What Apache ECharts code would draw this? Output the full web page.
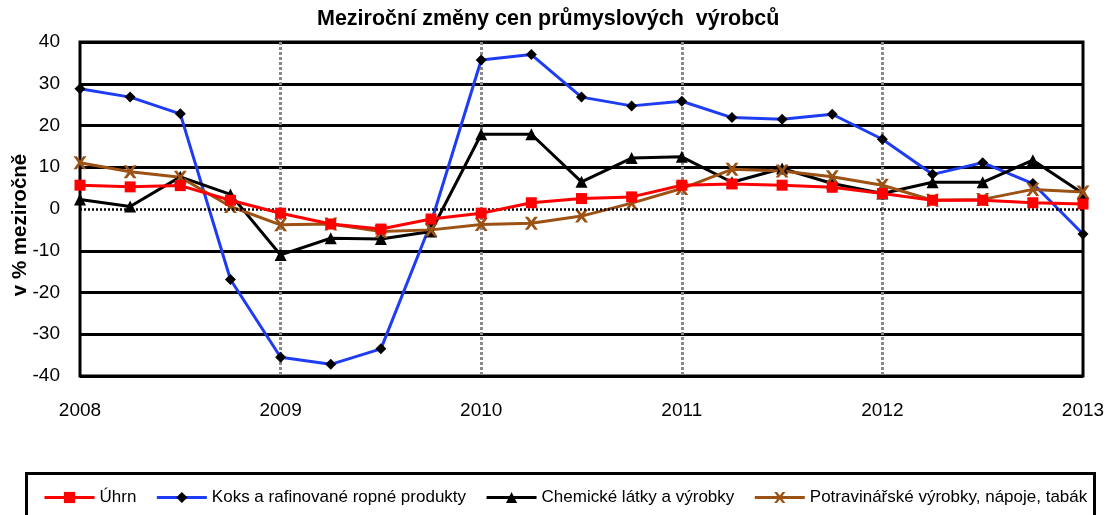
<!DOCTYPE html>
<html>
<head>
<meta charset="utf-8">
<script src="https://cdn.jsdelivr.net/npm/echarts@6/dist/echarts.min.js"></script>
<style>
html,body{margin:0;padding:0;background:#fff;}
#chart{width:1112px;height:515px;}
</style>
</head>
<body>
<div id="chart"></div>
<script>
var categories = ['2008 Q1','2008 Q2','2008 Q3','2008 Q4','2009 Q1','2009 Q2','2009 Q3','2009 Q4','2010 Q1','2010 Q2','2010 Q3','2010 Q4','2011 Q1','2011 Q2','2011 Q3','2011 Q4','2012 Q1','2012 Q2','2012 Q3','2012 Q4','2013 Q1'];
var uhrn = [5.7, 5.3, 5.6, 2.1, -1.0, -3.6, -4.8, -2.4, -1.0, 1.5, 2.5, 2.9, 5.7, 6.0, 5.7, 5.2, 3.7, 2.1, 2.1, 1.5, 1.2];
var koks = [28.8, 26.8, 22.8, -16.9, -35.5, -37.2, -33.5, -3.3, 35.7, 37.0, 26.8, 24.7, 25.8, 21.9, 21.5, 22.7, 16.7, 8.3, 11.1, 6.1, -6.0];
var chemicke = [2.3, 0.6, 7.7, 3.5, -11.0, -7.0, -7.2, -5.4, 17.9, 17.9, 6.5, 12.2, 12.5, 6.4, 9.7, 6.1, 3.7, 6.4, 6.4, 11.7, 3.7];
var potraviny = [11.1, 8.9, 7.6, 0.6, -3.8, -3.6, -5.4, -5.0, -3.7, -3.4, -1.7, 1.4, 4.9, 9.5, 9.1, 7.7, 5.7, 2.1, 2.3, 4.7, 4.1];
var seriesNames = ['Úhrn', 'Koks a rafinované ropné produkty', 'Chemické látky a výrobky', 'Potravinářské výrobky, nápoje, tabák'];
var yTicks = [-40, -30, -20, -10, 0, 10, 20, 30, 40];
var titleText = 'Meziroční změny cen průmyslových  výrobců';
var yAxisTitle = 'v % meziročně';

var FONT = 'Arial, "Liberation Sans", sans-serif';
var xMark = 'path://M0,0 L2.5,0 L5,3.2 L7.5,0 L10,0 L6.4,5 L10,10 L7.5,10 L5,6.8 L2.5,10 L0,10 L3.6,5 Z';

var chart = echarts.init(document.getElementById('chart'), null, {renderer: 'canvas'});
var splitColors = yTicks.map(function (v) { return v === 0 ? 'rgba(0,0,0,0)' : '#000'; });

function mkSeries(name, data, color, symbol, size, symColor) {
  return {
    name: name, type: 'line', data: data,
    symbol: symbol, symbolSize: size, showSymbol: true,
    lineStyle: {color: color, width: 3},
    itemStyle: {color: symColor || color, borderWidth: 0},
    emphasis: {disabled: true},
    animation: false
  };
}

var series = [
  mkSeries(seriesNames[0], uhrn, '#ff0000', 'rect', 11),
  mkSeries(seriesNames[1], koks, '#1f3cf5', 'diamond', 11, '#000'),
  mkSeries(seriesNames[2], chemicke, '#000000', 'triangle', 12),
  mkSeries(seriesNames[3], potraviny, '#9c5214', xMark, 13)
];
series[0].markLine = {
  silent: true, symbol: 'none', animation: false,
  label: {show: false},
  lineStyle: {color: '#000', width: 2.5, type: [2, 2]},
  data: [{yAxis: 0}]
};
series[0].z = 5;

chart.setOption({
  backgroundColor: '#fff',
  animation: false,
  title: {
    text: titleText, left: 312, top: 3,
    textStyle: {fontFamily: FONT, fontSize: 21.5, fontWeight: 'bold', color: '#000'}
  },
  grid: {
    left: 80, right: 29, top: 42, bottom: 139,
    show: true, borderColor: '#000', borderWidth: 3, backgroundColor: 'transparent'
  },
  legend: {
    left: 38, top: 484, itemWidth: 50, itemHeight: 14, itemGap: 19,
    lineStyle: {width: 3},
    textStyle: {fontFamily: FONT, fontSize: 17, color: '#000'},
    data: seriesNames
  },
  graphic: [
    {type: 'rect', left: 24, top: 471, shape: {width: 1068, height: 70}, style: {fill: 'none', stroke: '#000', lineWidth: 3}, silent: true},
    {type: 'text', x: 20, y: 225, rotation: Math.PI / 2,
     style: {text: yAxisTitle, font: 'bold 20.5px ' + FONT, fill: '#000', textAlign: 'center', textVerticalAlign: 'middle'}}
  ],
  xAxis: {
    type: 'category', data: categories, boundaryGap: false,
    axisLine: {show: false}, axisTick: {show: false},
    axisLabel: {
      interval: 3, margin: 25, color: '#000', fontFamily: FONT, fontSize: 19,
      formatter: function (v) { return v.slice(0, 4); }
    },
    splitLine: {
      show: true,
      interval: function (i) { return i % 4 === 0 && i > 0 && i < categories.length - 1; },
      lineStyle: {color: '#8a8a8a', width: 3, type: [3, 2]}
    }
  },
  yAxis: {
    type: 'value', min: -40, max: 40, interval: 10,
    axisLine: {show: false}, axisTick: {show: false},
    axisLabel: {margin: 20, color: '#000', fontFamily: FONT, fontSize: 19},
    splitLine: {show: true, lineStyle: {color: splitColors, width: 3}}
  },
  series: series
});
</script>
</body>
</html>
